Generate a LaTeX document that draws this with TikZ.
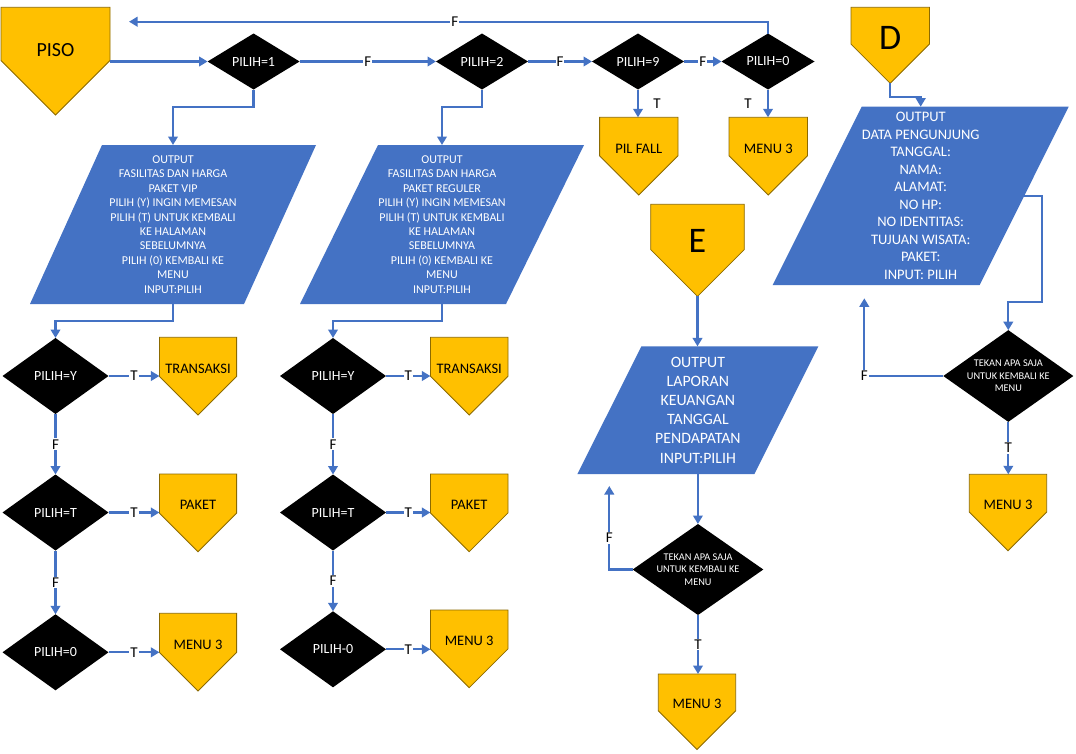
\documentclass[tikz,border=0pt]{standalone}
\usepackage{fontspec}
\setmainfont{Carlito}
\usetikzlibrary{arrows.meta,calc,backgrounds}

\definecolor{flowblue}{HTML}{4472C4}
\definecolor{gold}{HTML}{FFC000}
\definecolor{goldedge}{HTML}{8C6A00}

\tikzset{
  flow/.style={draw=flowblue, line width=2.3pt, -{Triangle[length=8.5pt,width=9.5pt]}},
  lbl/.style={fill=white, inner sep=1pt, text=black, font=\fontsize{15}{16}\selectfont},
  side/.style={inner sep=0pt, text=black, font=\fontsize{15}{16}\selectfont},
  boxtext/.style={rectangle, inner sep=0pt, outer sep=0pt, align=center, text=black,
    font=\fontsize{14.5}{17}\selectfont},
  dectext/.style={rectangle, inner sep=0pt, outer sep=0pt, align=center, text=white,
    font=\fontsize{14}{16}\selectfont},
  iotext/.style={rectangle, inner sep=0pt, outer sep=0pt, align=center, text=white,
    font=\fontsize{12}{14.4}\selectfont},
  bigletter/.style={font=\fontsize{36}{40}\selectfont},
  pisofont/.style={font=\fontsize{20}{24}\selectfont},
  smalldec/.style={font=\fontsize{10.3}{12.5}\selectfont},
  iobig/.style={font=\fontsize{14.5}{17.5}\selectfont},
  iolarge/.style={font=\fontsize{15.8}{19.1}\selectfont},
}

% off-page connector: [style]{name}{centre x}{top y}{width}{height}{text}
\newcommand{\offpage}[7][]{%
  \node[boxtext,#1, minimum width=#5, minimum height=0.8*#6, anchor=north] (#2) at (#3,#4) {#7};
  \coordinate (#2-tip) at (#3,#4+#6);
  \begin{pgfonlayer}{background}
    \filldraw[fill=gold, draw=goldedge, line width=0.8pt]
      (#3-#5/2,#4) -- (#3+#5/2,#4) -- (#3+#5/2,#4+#6-#5/2) -- (#2-tip)
      -- (#3-#5/2,#4+#6-#5/2) -- cycle;
  \end{pgfonlayer}}

% decision: [style]{name}{centre x}{centre y}{width}{height}{text}
\newcommand{\decision}[7][]{%
  \node[dectext,#1, minimum width=#5, minimum height=#6] (#2) at (#3,#4) {#7};
  \begin{pgfonlayer}{background}
    \fill[black] (#2.north) -- (#2.east) -- (#2.south) -- (#2.west) -- cycle;
  \end{pgfonlayer}}

% input/output: [style]{name}{centre x}{centre y}{width}{height}{slant}{text}
\newcommand{\iobox}[8][]{%
  \node[iotext,#1, minimum width=#5, minimum height=#6] (#2) at (#3,#4) {#8};
  \begin{pgfonlayer}{background}
    \fill[flowblue] ($(#2.north west)+(#7/2,0)$) -- ($(#2.north east)+(#7/2,0)$)
      -- ($(#2.south east)-(#7/2,0)$) -- ($(#2.south west)-(#7/2,0)$) -- cycle;
  \end{pgfonlayer}}

\begin{document}
\begin{tikzpicture}[x=1pt,y=-1pt]
\begin{pgfonlayer}{background}
  \fill[white] (0,0) rectangle (1076,753);
\end{pgfonlayer}
\useasboundingbox (0,0) rectangle (1076,753);

% ---- main menu row
\offpage[pisofont]{piso}{55.5}{7.3}{109}{107.7}{PISO}
\decision{d1}{253.6}{61.5}{92}{56}{PILIH=1}
\decision{d2}{482}{61.5}{92}{56}{PILIH=2}
\decision{d9}{638}{61.5}{92}{56}{PILIH=9}
\decision{d0}{768}{61.5}{93}{56}{PILIH=0}
\offpage{pf}{638.8}{117.3}{78.4}{77.7}{PIL FALL}
\offpage{m0}{768.3}{117.3}{78.5}{77.7}{MENU 3}
\coordinate (back) at (129,21.7);

% ---- package descriptions
\iobox{p1}{173}{224.5}{214}{159}{72}{OUTPUT\\FASILITAS DAN HARGA\\PAKET VIP\\PILIH (Y) INGIN MEMESAN\\PILIH (T) UNTUK KEMBALI\\KE HALAMAN\\SEBELUMNYA\\PILIH (0) KEMBALI KE\\MENU\\INPUT:PILIH}
\iobox{p2}{442}{224.5}{206}{159}{78}{OUTPUT\\FASILITAS DAN HARGA\\PAKET REGULER\\PILIH (Y) INGIN MEMESAN\\PILIH (T) UNTUK KEMBALI\\KE HALAMAN\\SEBELUMNYA\\PILIH (0) KEMBALI KE\\MENU\\INPUT:PILIH}

% ---- VIP column
\decision{y1}{55.5}{376}{106}{76}{PILIH=Y}
\decision{t1}{55.5}{512.5}{106}{76}{PILIH=T}
\decision{z1}{55.5}{652.3}{106}{76}{PILIH=0}
\offpage{tr1}{198}{337.3}{77.2}{77.7}{TRANSAKSI}
\offpage{pk1}{198}{474}{77.2}{77.7}{PAKET}
\offpage{mn1}{198}{613.3}{77.2}{77.7}{MENU 3}

% ---- regular column
\decision{y2}{333}{376}{106}{76}{PILIH=Y}
\decision{t2}{333}{512.5}{106}{76}{PILIH=T}
\decision{z2}{333}{649.3}{106}{76}{PILIH-0}
\offpage{tr2}{469.2}{337.3}{77.6}{77.7}{TRANSAKSI}
\offpage{pk2}{469.2}{474}{77.6}{77.7}{PAKET}
\offpage{mn2}{469.2}{610}{77.6}{77.7}{MENU 3}

% ---- E: financial report
\offpage[bigletter]{E}{697.5}{204.3}{93.6}{92.1}{E}
\iobox[iolarge]{ep}{697.9}{410.2}{177}{127.6}{64}{OUTPUT\\LAPORAN\\KEUANGAN\\TANGGAL\\PENDAPATAN\\INPUT:PILIH}
\decision[smalldec]{ed}{698}{569.5}{130.6}{91}{TEKAN APA SAJA\\UNTUK KEMBALI KE\\MENU}
\offpage{em}{697}{674}{77.4}{75.5}{MENU 3}
\coordinate (eback) at (609.3,486);

% ---- D: visitor data
\offpage[bigletter]{D}{890.2}{7.3}{78.4}{76}{D}
\iobox[iobig]{dp}{920.7}{195.85}{207}{178.3}{89}{OUTPUT\\DATA PENGUNJUNG\\TANGGAL:\\NAMA:\\ALAMAT:\\NO HP:\\NO IDENTITAS:\\TUJUAN WISATA:\\PAKET:\\INPUT: PILIH}
\decision[smalldec]{dd}{1008.3}{376}{130}{91.7}{TEKAN APA SAJA\\UNTUK KEMBALI KE\\MENU}
\offpage{dm}{1008}{474.3}{77.4}{76.4}{MENU 3}
\coordinate (dback) at (864.3,298.3);

% ---- connectors: main row
\draw[flow] (piso.east |- d1.west) -- (d1.west);
\draw[flow] (d1.east) -- node[lbl]{F} (d2.west);
\draw[flow] (d2.east) -- node[lbl]{F} (d9.west);
\draw[flow] (d9.east) -- node[lbl]{F} (d0.west);
\draw[flow] (d0.north) |- node[lbl, pos=0.745]{F} (back);
\draw[flow] (d9.south) -- node[side, xshift=19pt]{T} (d9.south |- pf.north);
\draw[flow] (d0.south) -- node[side, xshift=-20pt]{T} (d0.south |- m0.north);
\draw[flow] (d1.south) -- ++(0,17.4) -| (p1.north);
\draw[flow] (d2.south) -- ++(0,17.4) -| (p2.north);
\draw[flow] (p1.south) -- ++(0,17) -| (y1.north);
\draw[flow] (p2.south) -- ++(0,17) -| (y2.north);

% ---- connectors: columns
\draw[flow] (y1.east) -- node[lbl]{T} (y1.east -| tr1.west);
\draw[flow] (y1.south) -- node[lbl]{F} (t1.north);
\draw[flow] (t1.east) -- node[lbl]{T} (t1.east -| pk1.west);
\draw[flow] (t1.south) -- node[lbl]{F} (z1.north);
\draw[flow] (z1.east) -- node[lbl]{T} (z1.east -| mn1.west);

\draw[flow] (y2.east) -- node[lbl]{T} (y2.east -| tr2.west);
\draw[flow] (y2.south) -- node[lbl]{F} (t2.north);
\draw[flow] (t2.east) -- node[lbl]{T} (t2.east -| pk2.west);
\draw[flow] (t2.south) -- node[lbl]{F} (z2.north);
\draw[flow] (z2.east) -- node[lbl]{T} (z2.east -| mn2.west);

% ---- connectors: E
\draw[flow] (E-tip) -- (E-tip |- ep.north);
\draw[flow] (ep.south) -- (ep.south |- ed.north);
\draw[flow] (ed.west) -| node[lbl, pos=0.69]{F} (eback);
\draw[flow] (ed.south) -- node[lbl]{T} (ed.south |- em.north);

% ---- connectors: D
\draw[flow] (D-tip) -- ++(0,13.4) -| (dp.north);
\draw[flow] (dp.east) -- ++(17.5,0) |- ([yshift=28.3pt]dd.north) -- (dd.north);
\draw[flow] (dd.west) -| node[lbl, pos=0.5]{F} (dback);
\draw[flow] (dd.south) -- node[lbl]{T} (dd.south |- dm.north);
\end{tikzpicture}
\end{document}
